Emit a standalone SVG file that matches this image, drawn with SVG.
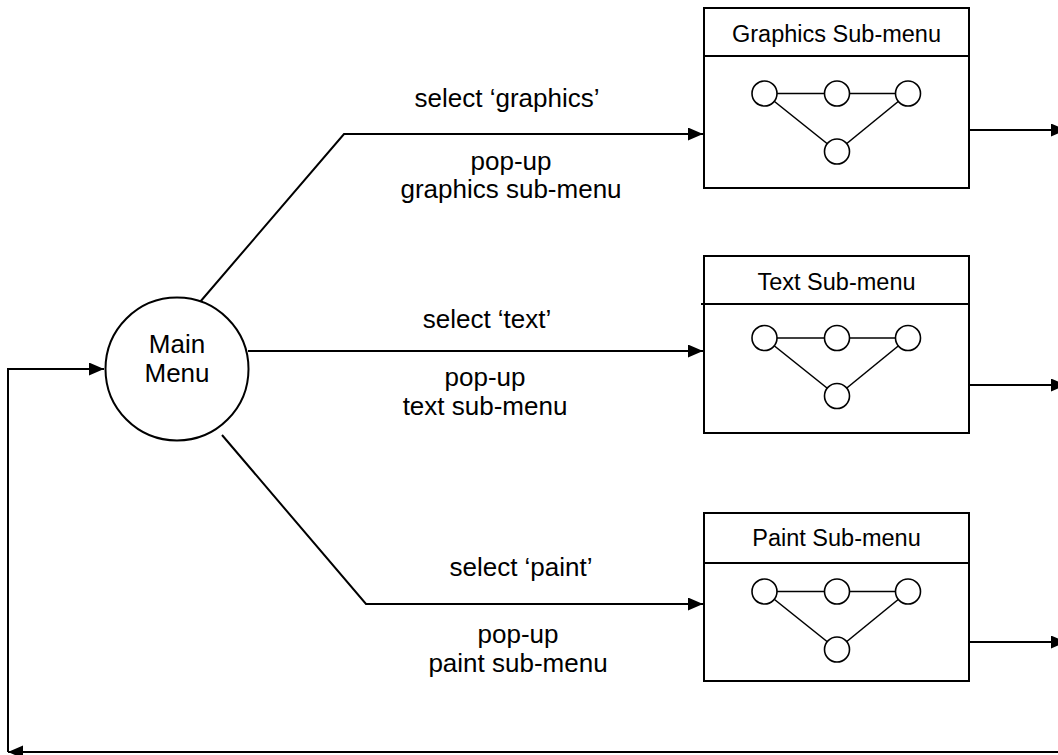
<svg xmlns="http://www.w3.org/2000/svg" width="1058" height="755" viewBox="0 0 1058 755">
  <style>
    text { font-family: "Liberation Sans", Arial, sans-serif; fill: #000; text-anchor: middle; }
    .lbl { font-size: 26px; }
    .ttl { font-size: 23.5px; }
    .box { fill: #fff; stroke: #000; stroke-width: 2; }
    .div { stroke: #000; stroke-width: 2; }
    .conn { fill: none; stroke: #000; stroke-width: 2; }
    .mini { fill: none; stroke: #000; stroke-width: 1.6; }
    .dot { fill: #fff; stroke: #000; stroke-width: 1.6; }
  </style>
  <defs>
    <marker id="arrow" markerUnits="userSpaceOnUse" markerWidth="16" markerHeight="14" refX="15" refY="6.5" orient="auto">
      <path d="M0,0 L15,6.5 L0,13 Z" fill="#000"/>
    </marker>
    <!-- small state graph drawn inside each sub-menu box -->
    <g id="mini-graph">
      <line class="mini" x1="764.5" y1="0" x2="908" y2="0"/>
      <line class="mini" x1="764.5" y1="0" x2="837" y2="58"/>
      <line class="mini" x1="908" y1="0" x2="837" y2="58"/>
      <circle class="dot" cx="764.5" cy="0" r="12.5"/>
      <circle class="dot" cx="837" cy="0" r="12.5"/>
      <circle class="dot" cx="908" cy="0" r="12.5"/>
      <circle class="dot" cx="837" cy="58" r="12.5"/>
    </g>
  </defs>

  <rect width="1058" height="755" fill="#fff"/>

  <!-- connectors -->
  <g id="connectors">
    <polyline class="conn" points="200,302 344,134 703,134" marker-end="url(#arrow)"/>
    <polyline class="conn" points="248,351 703,351" marker-end="url(#arrow)"/>
    <polyline class="conn" points="222,435 366,604 703,604" marker-end="url(#arrow)"/>
    <line class="conn" x1="970" y1="130" x2="1066" y2="130" marker-end="url(#arrow)"/>
    <line class="conn" x1="970" y1="385" x2="1066" y2="385" marker-end="url(#arrow)"/>
    <line class="conn" x1="970" y1="642" x2="1066" y2="642" marker-end="url(#arrow)"/>
    <polyline class="conn" points="1070,752 8,752" marker-end="url(#arrow)"/>
    <polyline class="conn" points="8,752 8,369 104,369" marker-end="url(#arrow)"/>

    <text class="lbl" x="507" y="107">select ‘graphics’</text>
    <text class="lbl" x="511" y="170">pop-up</text>
    <text class="lbl" x="511" y="198">graphics sub-menu</text>

    <text class="lbl" x="487" y="328">select ‘text’</text>
    <text class="lbl" x="485" y="386">pop-up</text>
    <text class="lbl" x="485" y="415">text sub-menu</text>

    <text class="lbl" x="521" y="576">select ‘paint’</text>
    <text class="lbl" x="518" y="643">pop-up</text>
    <text class="lbl" x="518" y="672">paint sub-menu</text>
  </g>

  <!-- main menu -->
  <g id="main-menu">
    <circle cx="177" cy="369" r="71.5" fill="#fff" stroke="#000" stroke-width="2"/>
    <text class="lbl" x="177" y="353">Main</text>
    <text class="lbl" x="177" y="382">Menu</text>
  </g>

  <!-- graphics sub-menu -->
  <g id="graphics-submenu">
    <rect class="box" x="704" y="8" width="265" height="180"/>
    <line class="div" x1="704" y1="56" x2="969" y2="56"/>
    <text class="ttl" x="836.5" y="42">Graphics Sub-menu</text>
    <use href="#mini-graph" y="93.5"/>
  </g>

  <!-- text sub-menu -->
  <g id="text-submenu">
    <rect class="box" x="704" y="256" width="265" height="177"/>
    <line class="div" x1="701" y1="304" x2="969" y2="304"/>
    <text class="ttl" x="836.5" y="290">Text Sub-menu</text>
    <use href="#mini-graph" y="338"/>
  </g>

  <!-- paint sub-menu -->
  <g id="paint-submenu">
    <rect class="box" x="704" y="513" width="265" height="168"/>
    <line class="div" x1="704" y1="563" x2="969" y2="563"/>
    <text class="ttl" x="836.5" y="546">Paint Sub-menu</text>
    <use href="#mini-graph" y="591.5"/>
  </g>
</svg>
